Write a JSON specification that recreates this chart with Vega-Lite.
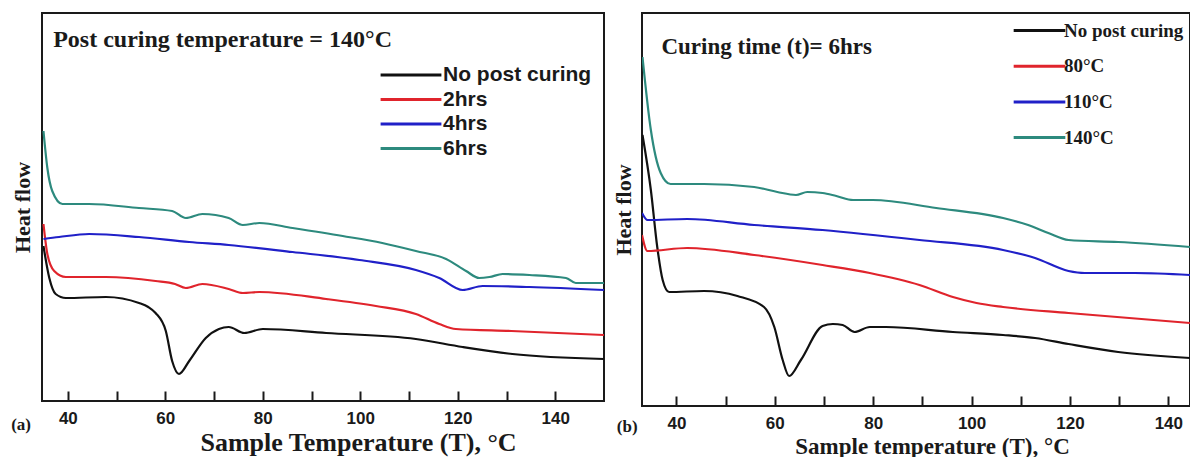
{
  "$schema": "https://vega.github.io/schema/vega-lite/v6.json",
  "padding": {"left": 10, "top": 12, "right": 0, "bottom": 0},
  "bounds": "flush",
  "spacing": 38,
  "background": "white",
  "datasets": {
    "a": [
      {"s": "No post curing", "T": 35.0, "h": 155}, {"s": "No post curing", "T": 36.2, "h": 123}, {"s": "No post curing", "T": 37.5, "h": 107}, {"s": "No post curing", "T": 39.6, "h": 103}, {"s": "No post curing", "T": 47.8, "h": 104}, {"s": "No post curing", "T": 54.6, "h": 98}, {"s": "No post curing", "T": 56.5, "h": 94}, {"s": "No post curing", "T": 58.0, "h": 88}, {"s": "No post curing", "T": 60.1, "h": 70}, {"s": "No post curing", "T": 61.4, "h": 40}, {"s": "No post curing", "T": 62.8, "h": 27}, {"s": "No post curing", "T": 64.9, "h": 40}, {"s": "No post curing", "T": 68.3, "h": 63}, {"s": "No post curing", "T": 71.0, "h": 72}, {"s": "No post curing", "T": 73.0, "h": 74}, {"s": "No post curing", "T": 76.2, "h": 68}, {"s": "No post curing", "T": 80.0, "h": 72}, {"s": "No post curing", "T": 93.0, "h": 68}, {"s": "No post curing", "T": 111.4, "h": 62}, {"s": "No post curing", "T": 121.0, "h": 54}, {"s": "No post curing", "T": 131.2, "h": 47}, {"s": "No post curing", "T": 150, "h": 42},
      {"s": "2hrs", "T": 35.0, "h": 177}, {"s": "2hrs", "T": 35.8, "h": 147}, {"s": "2hrs", "T": 37.2, "h": 130}, {"s": "2hrs", "T": 39.6, "h": 124}, {"s": "2hrs", "T": 47.8, "h": 124}, {"s": "2hrs", "T": 58.0, "h": 120}, {"s": "2hrs", "T": 62.0, "h": 117}, {"s": "2hrs", "T": 64.2, "h": 113}, {"s": "2hrs", "T": 67.6, "h": 117}, {"s": "2hrs", "T": 73.0, "h": 112}, {"s": "2hrs", "T": 75.9, "h": 108}, {"s": "2hrs", "T": 79.3, "h": 109}, {"s": "2hrs", "T": 93.0, "h": 102}, {"s": "2hrs", "T": 103.2, "h": 95}, {"s": "2hrs", "T": 111.4, "h": 87}, {"s": "2hrs", "T": 116.2, "h": 77}, {"s": "2hrs", "T": 119.6, "h": 72}, {"s": "2hrs", "T": 131.0, "h": 70}, {"s": "2hrs", "T": 150, "h": 66},
      {"s": "4hrs", "T": 35.0, "h": 162}, {"s": "4hrs", "T": 38.2, "h": 164}, {"s": "4hrs", "T": 44.4, "h": 167}, {"s": "4hrs", "T": 54.6, "h": 164}, {"s": "4hrs", "T": 64.9, "h": 159}, {"s": "4hrs", "T": 73.0, "h": 156}, {"s": "4hrs", "T": 86.1, "h": 149}, {"s": "4hrs", "T": 99.8, "h": 141}, {"s": "4hrs", "T": 111.4, "h": 131}, {"s": "4hrs", "T": 116.2, "h": 123}, {"s": "4hrs", "T": 121.0, "h": 111}, {"s": "4hrs", "T": 125.1, "h": 115}, {"s": "4hrs", "T": 134.7, "h": 114}, {"s": "4hrs", "T": 150, "h": 111},
      {"s": "6hrs", "T": 35.0, "h": 270}, {"s": "6hrs", "T": 35.8, "h": 233}, {"s": "6hrs", "T": 36.8, "h": 210}, {"s": "6hrs", "T": 38.9, "h": 197}, {"s": "6hrs", "T": 44.4, "h": 197}, {"s": "6hrs", "T": 54.6, "h": 193}, {"s": "6hrs", "T": 61.4, "h": 190}, {"s": "6hrs", "T": 64.2, "h": 183}, {"s": "6hrs", "T": 67.6, "h": 187}, {"s": "6hrs", "T": 73.0, "h": 183}, {"s": "6hrs", "T": 75.9, "h": 176}, {"s": "6hrs", "T": 79.3, "h": 178}, {"s": "6hrs", "T": 86.1, "h": 173}, {"s": "6hrs", "T": 96.4, "h": 165}, {"s": "6hrs", "T": 104.5, "h": 158}, {"s": "6hrs", "T": 111.4, "h": 150}, {"s": "6hrs", "T": 117.6, "h": 142}, {"s": "6hrs", "T": 121.7, "h": 130}, {"s": "6hrs", "T": 124.4, "h": 123}, {"s": "6hrs", "T": 126.5, "h": 124}, {"s": "6hrs", "T": 129.2, "h": 127}, {"s": "6hrs", "T": 134.7, "h": 126}, {"s": "6hrs", "T": 142.2, "h": 123}, {"s": "6hrs", "T": 144.2, "h": 118}, {"s": "6hrs", "T": 150, "h": 118}
    ],
    "b": [
      {"s": "No post curing", "T": 33.1, "h": 271}, {"s": "No post curing", "T": 34.8, "h": 216}, {"s": "No post curing", "T": 36.1, "h": 159}, {"s": "No post curing", "T": 37.2, "h": 126}, {"s": "No post curing", "T": 38.5, "h": 114}, {"s": "No post curing", "T": 45.6, "h": 115}, {"s": "No post curing", "T": 52.4, "h": 110}, {"s": "No post curing", "T": 57.8, "h": 99}, {"s": "No post curing", "T": 59.9, "h": 79}, {"s": "No post curing", "T": 61.6, "h": 46}, {"s": "No post curing", "T": 62.9, "h": 30}, {"s": "No post curing", "T": 65.3, "h": 46}, {"s": "No post curing", "T": 69.7, "h": 80}, {"s": "No post curing", "T": 71.8, "h": 82}, {"s": "No post curing", "T": 73.8, "h": 81}, {"s": "No post curing", "T": 76.2, "h": 74}, {"s": "No post curing", "T": 79.3, "h": 79}, {"s": "No post curing", "T": 82.6, "h": 79}, {"s": "No post curing", "T": 96.2, "h": 74}, {"s": "No post curing", "T": 106.4, "h": 71}, {"s": "No post curing", "T": 112.9, "h": 68}, {"s": "No post curing", "T": 119.7, "h": 62}, {"s": "No post curing", "T": 129.8, "h": 54}, {"s": "No post curing", "T": 144.4, "h": 48},
      {"s": "80°C", "T": 33.0, "h": 171}, {"s": "80°C", "T": 34.1, "h": 155}, {"s": "80°C", "T": 42.2, "h": 158}, {"s": "80°C", "T": 55.8, "h": 151}, {"s": "80°C", "T": 69.7, "h": 141}, {"s": "80°C", "T": 79.3, "h": 133}, {"s": "80°C", "T": 89.4, "h": 121}, {"s": "80°C", "T": 96.2, "h": 109}, {"s": "80°C", "T": 101.0, "h": 103}, {"s": "80°C", "T": 106.4, "h": 99}, {"s": "80°C", "T": 119.7, "h": 93}, {"s": "80°C", "T": 144.4, "h": 83},
      {"s": "110°C", "T": 33.0, "h": 193}, {"s": "110°C", "T": 34.1, "h": 186}, {"s": "110°C", "T": 42.2, "h": 187}, {"s": "110°C", "T": 55.8, "h": 181}, {"s": "110°C", "T": 69.7, "h": 176}, {"s": "110°C", "T": 89.4, "h": 166}, {"s": "110°C", "T": 106.4, "h": 156}, {"s": "110°C", "T": 112.9, "h": 148}, {"s": "110°C", "T": 119.7, "h": 135}, {"s": "110°C", "T": 123.0, "h": 133}, {"s": "110°C", "T": 133.2, "h": 133}, {"s": "110°C", "T": 144.4, "h": 131},
      {"s": "140°C", "T": 33.1, "h": 349}, {"s": "140°C", "T": 34.8, "h": 276}, {"s": "140°C", "T": 36.8, "h": 233}, {"s": "140°C", "T": 38.8, "h": 222}, {"s": "140°C", "T": 45.6, "h": 222}, {"s": "140°C", "T": 55.8, "h": 219}, {"s": "140°C", "T": 60.5, "h": 214}, {"s": "140°C", "T": 64.3, "h": 211}, {"s": "140°C", "T": 66.6, "h": 214}, {"s": "140°C", "T": 69.7, "h": 213}, {"s": "140°C", "T": 72.5, "h": 210}, {"s": "140°C", "T": 75.9, "h": 206}, {"s": "140°C", "T": 79.9, "h": 206}, {"s": "140°C", "T": 92.8, "h": 198}, {"s": "140°C", "T": 106.4, "h": 188}, {"s": "140°C", "T": 111.5, "h": 181}, {"s": "140°C", "T": 115.6, "h": 173}, {"s": "140°C", "T": 119.7, "h": 166}, {"s": "140°C", "T": 129.8, "h": 164}, {"s": "140°C", "T": 144.4, "h": 159}
    ]
  },
  "hconcat": [
    {
      "width": 562,
      "height": 388,
      "layer": [
        {
          "data": {"name": "a"},
          "mark": {"type": "line", "strokeWidth": 2.2, "clip": true, "interpolate": "monotone"},
          "encoding": {
            "x": {
              "field": "T", "type": "quantitative",
              "scale": {"domain": [34.7, 150], "nice": false, "zero": false},
              "axis": {
                "values": [40, 50, 60, 70, 80, 90, 100, 110, 120, 130, 140],
                "labelExpr": "datum.value % 20 === 0 ? datum.label : ''",
                "tickSize": -10,
                "encode": {"ticks": {"update": {"y2": {"signal": "datum.value % 20 === 0 ? -10 : -5"}}}},
                "labelPadding": 19,
                "title": "Sample Temperature (T), °C",
                "titleFontSize": 26,
                "titleX": 316,
                "titleY": 49,
                "titleBaseline": "alphabetic"
              }
            },
            "y": {
              "field": "h", "type": "quantitative",
              "scale": {"domain": [0, 388], "nice": false, "zero": false},
              "axis": {"title": "Heat flow", "titlePadding": 8}
            },
            "color": {
              "field": "s", "type": "nominal",
              "scale": {"domain": ["No post curing", "2hrs", "4hrs", "6hrs"], "range": ["#111111", "#e0242c", "#2020c8", "#2d8a7e"]},
              "legend": {
                "orient": "none", "legendX": 358, "legendY": 51,
                "symbolType": "M-3.2,0H3.2", "symbolSize": 361, "symbolStrokeWidth": 3,
                "labelFont": "Liberation Sans", "labelFontSize": 21, "labelFontWeight": "bold",
                "labelOffset": 21, "rowPadding": 3.5
              }
            }
          }
        },
        {
          "data": {"values": [{"label": "Post curing temperature = 140°C"}]},
          "mark": {"type": "text", "align": "left", "baseline": "middle", "font": "Liberation Serif", "fontWeight": "bold", "fontSize": 24, "color": "#1a1a1a"},
          "encoding": {"x": {"datum": 37.0}, "y": {"datum": 361}, "text": {"field": "label"}}
        },
        {
          "data": {"values": [{"label": "(a)"}]},
          "mark": {"type": "text", "align": "center", "baseline": "middle", "font": "Liberation Serif", "fontWeight": "bold", "fontSize": 17, "color": "#1a1a1a"},
          "encoding": {"x": {"datum": 30.4}, "y": {"datum": -24}, "text": {"field": "label"}}
        }
      ]
    },
    {
      "width": 548,
      "height": 393,
      "layer": [
        {
          "data": {"name": "b"},
          "mark": {"type": "line", "strokeWidth": 2.2, "clip": true, "interpolate": "monotone"},
          "encoding": {
            "x": {
              "field": "T", "type": "quantitative",
              "scale": {"domain": [33, 144.4], "nice": false, "zero": false},
              "axis": {
                "values": [40, 50, 60, 70, 80, 90, 100, 110, 120, 130, 140],
                "labelExpr": "datum.value % 20 === 0 ? datum.label : ''",
                "tickSize": -10,
                "encode": {"ticks": {"update": {"y2": {"signal": "datum.value % 20 === 0 ? -10 : -5"}}}},
                "labelPadding": 19,
                "title": "Sample temperature (T), °C",
                "titleFontSize": 23,
                "titleX": 290,
                "titleY": 47,
                "titleBaseline": "alphabetic"
              }
            },
            "y": {
              "field": "h", "type": "quantitative",
              "scale": {"domain": [0, 393], "nice": false, "zero": false},
              "axis": {"title": "Heat flow", "titlePadding": 7}
            },
            "color": {
              "field": "s", "type": "nominal",
              "scale": {"domain": ["No post curing", "80°C", "110°C", "140°C"], "range": ["#111111", "#e0242c", "#2020c8", "#2d8a7e"]},
              "legend": {
                "orient": "none", "legendX": 388, "legendY": 8,
                "symbolType": "M-3.3,0H3.3", "symbolSize": 245, "symbolStrokeWidth": 3,
                "labelFont": "Liberation Serif", "labelFontSize": 19, "labelFontWeight": "bold",
                "labelOffset": 15, "rowPadding": 15.7, "labelLimit": 140
              }
            }
          }
        },
        {
          "data": {"values": [{"label": "Curing time (t)= 6hrs"}]},
          "mark": {"type": "text", "align": "left", "baseline": "middle", "font": "Liberation Serif", "fontWeight": "bold", "fontSize": 23, "color": "#1a1a1a"},
          "encoding": {"x": {"datum": 36.95}, "y": {"datum": 359}, "text": {"field": "label"}}
        },
        {
          "data": {"values": [{"label": "(b)"}]},
          "mark": {"type": "text", "align": "center", "baseline": "middle", "font": "Liberation Serif", "fontWeight": "bold", "fontSize": 17, "color": "#1a1a1a"},
          "encoding": {"x": {"datum": 30.0}, "y": {"datum": -21}, "text": {"field": "label"}}
        }
      ]
    }
  ],
  "resolve": {
    "scale": {"x": "independent", "y": "independent", "color": "independent"},
    "legend": {"color": "independent"},
    "axis": {"x": "independent", "y": "independent"}
  },
  "config": {
    "view": {"stroke": "#1a1a1a", "strokeWidth": 2},
    "axis": {
      "domain": false,
      "grid": false,
      "tickColor": "#1a1a1a",
      "tickWidth": 2,
      "labelFont": "Liberation Sans",
      "labelFontWeight": "bold",
      "labelFontSize": 17,
      "labelColor": "#1a1a1a",
      "titleFont": "Liberation Serif",
      "titleFontWeight": "bold",
      "titleColor": "#1a1a1a"
    },
    "axisY": {"ticks": false, "labels": false, "titleFontSize": 22},
    "legend": {"title": null, "padding": 0, "labelColor": "#1a1a1a"}
  }
}
